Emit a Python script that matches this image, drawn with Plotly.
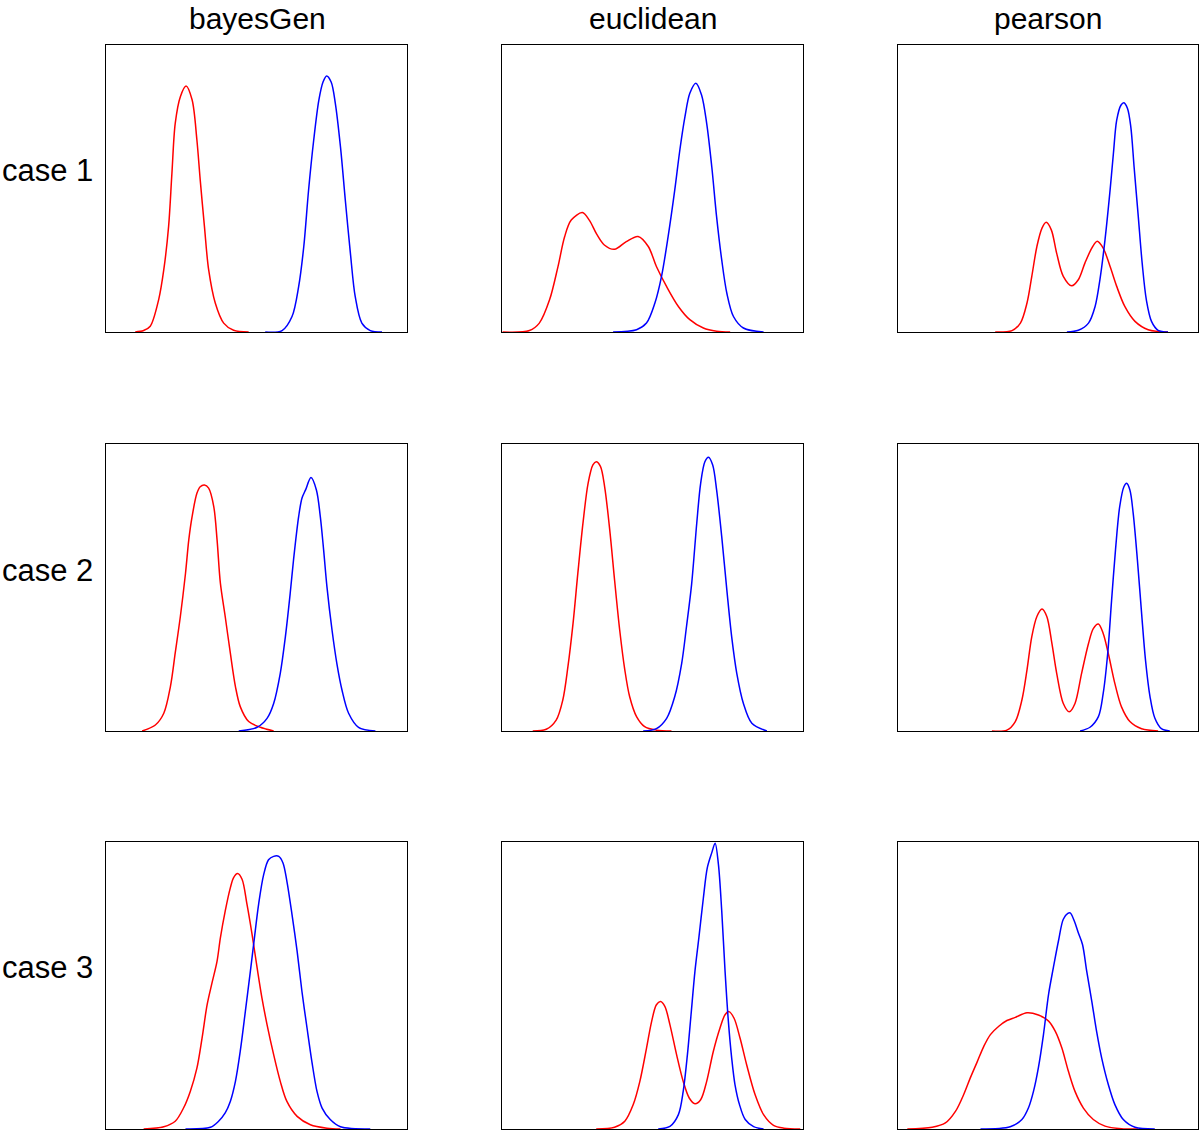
import plotly.graph_objects as go

methods = ["bayesGen", "euclidean", "pearson"]
cases = ["case 1", "case 2", "case 3"]

# ---- density curves (x: 0-100 across panel, y: 0-100 panel height)
# case 1
bg1_red_x = [9.7, 12.5, 14.7, 17.5, 19.2, 20.8, 21.9, 23.0, 24.7, 26.6, 28.6, 30.2, 31.3, 32.7, 34.1, 36.3, 39.1, 42.4, 47.4]
bg1_red_y = [0, 0.5, 2.0, 11.3, 21.7, 36.8, 55.3, 72.7, 82.0, 85.7, 80.9, 66.9, 53.0, 36.8, 21.7, 10.1, 3.1, 0.6, 0]
bg1_blue_x = [52.9, 58.5, 61.8, 64.0, 65.7, 67.3, 69.0, 70.7, 72.1, 73.3, 74.8, 76.2, 77.9, 79.5, 81.2, 82.8, 85.0, 87.8, 91.7]
bg1_blue_y = [0, 0.5, 5.4, 15.8, 29.7, 49.4, 66.8, 80.7, 87.1, 89.2, 87.1, 79.6, 64.5, 46.0, 27.4, 12.3, 3.1, 0.5, 0]

eu1_red_x = [0.2, 9.1, 12.4, 15.8, 18.6, 20.8, 23.0, 26.7, 29.0, 31.5, 34.0, 37.4, 41.3, 45.2, 48.6, 51.3, 54.7, 58.6, 62.4, 66.9, 71.3, 75.8]
eu1_red_y = [0, 0.5, 3.1, 11.2, 22.8, 33.2, 39.0, 41.6, 39.0, 34.0, 30.3, 28.8, 31.5, 33.3, 29.8, 22.8, 15.8, 8.9, 4.3, 1.4, 0.3, 0]
eu1_blue_x = [36.9, 44.7, 48.0, 50.8, 53.0, 55.2, 57.4, 59.1, 60.8, 62.4, 64.4, 66.3, 68.0, 69.7, 71.3, 73.0, 74.7, 76.9, 80.2, 86.9]
eu1_blue_y = [0, 0.8, 3.1, 10.1, 19.4, 33.3, 49.5, 63.5, 75.1, 83.2, 86.7, 82.6, 72.7, 57.5, 40.1, 25.1, 13.5, 5.4, 1.4, 0]

pe1_red_x = [32.4, 38.0, 40.8, 43.0, 44.6, 46.3, 48.0, 49.4, 51.1, 52.9, 55.1, 57.9, 60.1, 62.3, 64.6, 66.4, 68.4, 70.7, 72.9, 75.6, 79.0, 83.4, 90.0]
pe1_red_y = [0, 0.5, 3.1, 10.1, 19.4, 29.8, 36.2, 38.2, 35.6, 27.4, 19.4, 16.1, 18.2, 24.0, 29.2, 31.6, 29.2, 22.8, 15.9, 8.9, 3.7, 0.8, 0]
pe1_blue_x = [56.3, 60.1, 63.5, 65.7, 67.3, 69.0, 70.7, 71.8, 72.9, 74.3, 75.3, 76.5, 77.6, 78.7, 80.1, 81.4, 82.8, 84.5, 86.7, 90.0]
pe1_blue_y = [0, 0.6, 3.1, 8.9, 18.2, 32.1, 49.5, 62.2, 73.8, 79.0, 79.9, 77.9, 71.5, 57.5, 40.1, 23.9, 11.1, 3.7, 0.6, 0]

# case 2
bg2_red_x = [12.0, 16.4, 19.2, 21.4, 23.0, 24.7, 26.4, 27.5, 28.6, 30.2, 31.3, 32.7, 34.1, 35.8, 36.9, 38.0, 39.6, 41.3, 43.0, 44.6, 47.4, 51.3, 55.7]
bg2_red_y = [0, 2.1, 6.2, 15.5, 27.2, 39.9, 54.8, 66.6, 74.7, 82.8, 85.1, 85.7, 84.6, 78.2, 66.6, 51.5, 39.9, 27.2, 15.5, 8.5, 3.3, 1.3, 0]
bg2_blue_x = [44.1, 50.2, 53.5, 55.7, 57.9, 59.6, 61.2, 62.3, 64.0, 65.1, 66.3, 68.1, 69.9, 71.2, 72.3, 73.4, 75.1, 76.7, 78.4, 80.6, 83.9, 89.5]
bg2_blue_y = [0, 1.3, 4.4, 9.6, 20.1, 32.9, 48.0, 59.6, 74.7, 81.1, 84.0, 88.3, 84.0, 74.7, 63.1, 50.3, 35.1, 23.5, 14.3, 6.2, 1.3, 0]

eu2_red_x = [10.2, 14.7, 18.0, 20.2, 21.9, 23.6, 25.2, 26.9, 28.6, 30.2, 31.3, 32.7, 34.1, 35.8, 37.4, 39.1, 40.8, 42.4, 44.7, 47.4, 51.3, 56.3]
eu2_red_y = [0, 0.6, 3.8, 10.8, 22.4, 37.5, 55.0, 72.4, 86.3, 92.7, 93.8, 92.2, 85.1, 70.0, 52.6, 35.2, 21.3, 12.0, 5.0, 1.5, 0.3, 0]
eu2_blue_x = [46.9, 51.3, 54.7, 57.4, 59.7, 61.3, 63.0, 64.7, 66.0, 67.4, 68.6, 70.0, 71.3, 73.0, 74.7, 76.3, 78.0, 80.2, 83.0, 88.0]
eu2_blue_y = [0, 0.8, 4.4, 12.0, 23.6, 36.4, 51.2, 72.4, 86.3, 93.8, 95.4, 92.7, 84.0, 67.7, 49.1, 32.9, 20.1, 9.6, 2.7, 0]

pe2_red_x = [31.3, 36.3, 39.1, 41.3, 43.0, 44.6, 46.3, 48.0, 49.6, 51.3, 52.9, 55.1, 57.1, 59.0, 61.2, 63.5, 65.1, 66.8, 68.4, 70.1, 72.3, 74.5, 77.3, 81.2, 86.7]
pe2_red_y = [0, 0.3, 3.3, 10.8, 21.3, 32.9, 39.9, 42.5, 39.9, 30.5, 20.1, 9.6, 6.7, 9.6, 20.1, 30.5, 35.7, 37.3, 34.0, 27.0, 16.5, 8.4, 3.3, 0.8, 0]
pe2_blue_x = [60.7, 64.0, 66.8, 68.4, 69.9, 71.2, 72.5, 73.9, 75.3, 76.2, 77.3, 78.4, 79.8, 81.2, 82.5, 84.0, 85.6, 87.8, 90.6]
pe2_blue_y = [0, 1.3, 5.0, 13.1, 27.0, 45.6, 63.1, 78.2, 85.1, 86.3, 84.0, 75.8, 59.6, 41.0, 24.7, 12.0, 4.5, 0.8, 0]

# case 3
bg3_red_x = [12.5, 19.2, 23.0, 25.8, 28.0, 30.2, 31.9, 33.6, 35.2, 36.9, 38.0, 39.6, 41.3, 42.4, 43.7, 45.2, 46.8, 48.5, 50.2, 51.8, 53.5, 55.7, 57.9, 60.1, 63.5, 67.9, 73.4, 77.9]
bg3_red_y = [0, 0.8, 2.7, 7.4, 13.1, 21.2, 31.6, 43.3, 50.8, 58.5, 66.6, 75.9, 84.0, 87.6, 89.0, 87.0, 78.5, 68.0, 56.2, 45.7, 36.4, 25.9, 16.6, 9.6, 4.4, 1.5, 0.3, 0]
bg3_blue_x = [26.4, 34.7, 37.4, 39.6, 41.3, 43.0, 44.6, 46.3, 48.0, 49.3, 50.7, 52.4, 54.0, 55.7, 57.4, 58.8, 60.1, 61.8, 63.5, 65.1, 66.8, 68.4, 70.1, 71.8, 74.5, 77.9, 87.8]
bg3_blue_y = [0, 0.6, 2.7, 5.6, 9.6, 16.6, 27.1, 41.0, 55.3, 66.5, 78.3, 88.7, 93.8, 95.0, 95.0, 92.7, 86.3, 74.7, 61.9, 47.9, 35.1, 23.5, 13.1, 7.3, 3.3, 0.8, 0]

eu3_red_x = [31.3, 37.4, 40.8, 43.6, 45.8, 48.0, 49.7, 51.3, 52.7, 54.1, 55.8, 58.0, 60.2, 62.2, 64.1, 66.0, 68.0, 70.2, 72.4, 74.1, 75.4, 77.1, 79.1, 81.3, 84.1, 86.9, 90.2, 93.6, 99.1]
eu3_red_y = [0, 0.6, 2.7, 8.5, 16.6, 28.1, 37.4, 43.3, 44.4, 42.7, 36.3, 25.9, 16.6, 10.8, 8.8, 10.2, 16.6, 27.0, 35.1, 39.8, 40.9, 38.6, 31.6, 22.3, 11.9, 5.0, 1.3, 0.3, 0]
eu3_blue_x = [51.9, 55.8, 58.6, 60.2, 61.6, 62.8, 64.1, 65.4, 66.9, 68.2, 69.7, 70.8, 71.9, 73.0, 74.1, 75.2, 76.3, 77.4, 78.9, 80.8, 83.6, 86.9]
eu3_blue_y = [0, 0.9, 5.0, 13.1, 25.9, 39.8, 54.9, 66.6, 80.5, 91.0, 96.3, 99.6, 92.2, 76.0, 55.1, 37.6, 24.8, 15.5, 8.5, 3.3, 0.8, 0]

pe3_red_x = [3.1, 11.4, 15.8, 19.2, 21.9, 24.1, 26.4, 28.6, 30.8, 33.6, 36.3, 39.1, 43.0, 46.8, 50.2, 52.4, 54.6, 56.8, 59.0, 61.8, 65.1, 69.0, 74.5, 80.1]
pe3_red_y = [0, 0.6, 2.1, 6.2, 12.0, 17.8, 23.4, 28.8, 32.9, 35.8, 37.8, 38.9, 40.5, 39.7, 37.6, 34.1, 28.3, 20.1, 13.1, 7.3, 3.3, 1.0, 0.1, 0]
pe3_blue_x = [27.5, 37.4, 41.3, 43.5, 45.2, 46.8, 48.5, 50.2, 51.8, 53.5, 55.1, 56.6, 57.4, 58.8, 60.1, 61.5, 62.9, 64.6, 66.2, 67.9, 70.1, 72.3, 75.1, 79.0, 85.6]
pe3_blue_y = [0, 0.8, 3.3, 7.4, 13.3, 21.4, 33.0, 47.0, 56.3, 65.6, 73.1, 75.1, 75.3, 72.4, 68.4, 64.3, 55.0, 44.5, 34.0, 24.7, 15.5, 8.5, 3.3, 0.6, 0]

panels = [
    [(bg1_red_x, bg1_red_y, bg1_blue_x, bg1_blue_y),
     (eu1_red_x, eu1_red_y, eu1_blue_x, eu1_blue_y),
     (pe1_red_x, pe1_red_y, pe1_blue_x, pe1_blue_y)],
    [(bg2_red_x, bg2_red_y, bg2_blue_x, bg2_blue_y),
     (eu2_red_x, eu2_red_y, eu2_blue_x, eu2_blue_y),
     (pe2_red_x, pe2_red_y, pe2_blue_x, pe2_blue_y)],
    [(bg3_red_x, bg3_red_y, bg3_blue_x, bg3_blue_y),
     (eu3_red_x, eu3_red_y, eu3_blue_x, eu3_blue_y),
     (pe3_red_x, pe3_red_y, pe3_blue_x, pe3_blue_y)],
]

W, H = 1200, 1131
col_px = [(106, 407), (502, 803), (898, 1198)]
row_px = [(45, 332), (444, 731), (842, 1129)]

fig = go.Figure()
layout = dict(
    width=W, height=H, margin=dict(l=0, r=0, t=0, b=0),
    paper_bgcolor="white", plot_bgcolor="white", showlegend=False,
    font=dict(family="Liberation Sans, Arial, sans-serif", color="black"),
)
axis_common = dict(showgrid=False, zeroline=False, showticklabels=False, ticks="",
                   showline=True, linecolor="black", linewidth=1, mirror=True, fixedrange=True)
k = 0
for r in range(3):
    for c in range(3):
        k += 1
        sfx = "" if k == 1 else str(k)
        rx, ry, bx, by = panels[r][c]
        for xs, ys, col in ((rx, ry, "#ff0000"), (bx, by, "#0000ff")):
            fig.add_trace(go.Scatter(x=xs, y=ys, mode="lines", xaxis="x" + sfx, yaxis="y" + sfx,
                                     line=dict(color=col, width=1.5, shape="spline", smoothing=0.9),
                                     hoverinfo="skip"))
        x0, x1 = col_px[c]
        y0, y1 = row_px[r]
        layout["xaxis" + sfx] = dict(axis_common, domain=[x0 / W, x1 / W], range=[0, 100], anchor="y" + sfx)
        layout["yaxis" + sfx] = dict(axis_common, domain=[1 - y1 / H, 1 - y0 / H], range=[0, 100], anchor="x" + sfx)

annotations = []
title_centers = [257, 653, 1048]
for name, cx in zip(methods, title_centers):
    annotations.append(dict(text=name, x=cx / W, y=1 - 19 / H, xref="paper", yref="paper",
                            xanchor="center", yanchor="middle", showarrow=False,
                            font=dict(size=30, color="black")))
row_label_y = [170, 570, 968]
for name, cy in zip(cases, row_label_y):
    annotations.append(dict(text=name, x=0, y=1 - cy / H, xref="paper", yref="paper",
                            xanchor="left", yanchor="middle", showarrow=False,
                            font=dict(size=31, color="black")))
layout["annotations"] = annotations
fig.update_layout(**layout)
fig.write_html("out.html", config={"displayModeBar": False},
               post_script="document.body.style.margin='0';document.body.style.overflow='hidden';")
